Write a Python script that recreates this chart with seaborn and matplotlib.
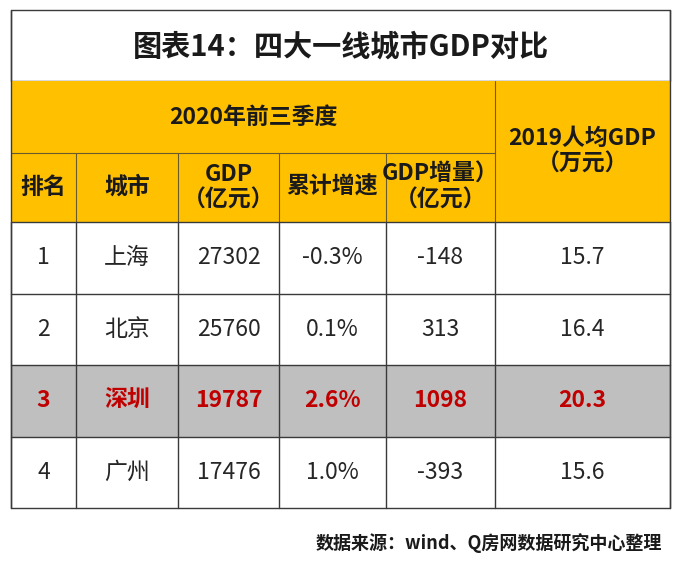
import matplotlib
matplotlib.use("Agg")
import matplotlib.pyplot as plt
from matplotlib.patches import Rectangle
import seaborn as sns

# table data
ranks = ["1", "2", "3", "4"]
cities = ["上海", "北京", "深圳", "广州"]
gdp = [27302, 25760, 19787, 17476]
growth = [-0.3, 0.1, 2.6, 1.0]
gdp_increase = [-148, 313, 1098, -393]
gdp_per_capita_2019 = [15.7, 16.4, 20.3, 15.6]
highlight_city = "深圳"

title = "图表14：四大一线城市GDP对比"
group_label = "2020年前三季度"
col_labels = ["排名", "城市", "GDP\n（亿元）", "累计增速", "GDP增量）\n（亿元）"]
last_col_label = "2019人均GDP\n（万元）"
source = "数据来源：wind、Q房网数据研究中心整理"

sns.set_theme(style="white")
plt.rcParams['font.family'] = ['Noto Sans CJK SC', 'DejaVu Sans']

W, H = 682, 565
fig = plt.figure(figsize=(W / 100, H / 100), dpi=100)
ax = fig.add_axes([0, 0, 1, 1])
ax.set_xlim(0, W)
ax.set_ylim(H, 0)
ax.axis("off")

# layout (pixels)
xs = [11, 76, 178, 279, 386, 495, 670]
y_top, y_title, y_h1, y_h2 = 10, 81, 153, 222
row_h = 71.5
yellow = "#FFC000"
grey = "#BFBFBF"
red = "#C00000"
line_c = "#3a3a3a"
head_fs = 16.5
data_fs = 16.5

# title cell
ax.add_patch(Rectangle((xs[0], y_top), xs[-1] - xs[0], y_title - y_top,
                       facecolor="white", edgecolor=line_c, lw=1))
ax.text((xs[0] + xs[-1]) / 2, (y_top + y_title) / 2 + 1, title, ha="center", va="center",
        fontsize=21, fontweight="bold", color="#1a1a1a")

# header block
ax.add_patch(Rectangle((xs[0], y_title), xs[-1] - xs[0], y_h2 - y_title,
                       facecolor=yellow, edgecolor="none"))
ax.plot([xs[0], xs[5]], [y_h1, y_h1], color="#6a5a30", lw=0.8)
for x in xs[1:5]:
    ax.plot([x, x], [y_h1, y_h2], color="#6a5a30", lw=0.8)
ax.plot([xs[5], xs[5]], [y_title, y_h2], color="#6a5a30", lw=0.8)
ax.text((xs[0] + xs[5]) / 2, (y_title + y_h1) / 2, group_label, ha="center", va="center",
        fontsize=head_fs, fontweight="bold", color="#1a1a1a")
ax.text((xs[5] + xs[6]) / 2, (y_title + y_h2) / 2, last_col_label, ha="center", va="center",
        fontsize=head_fs, fontweight="bold", color="#1a1a1a", linespacing=1.15)
for i, lab in enumerate(col_labels):
    ax.text((xs[i] + xs[i + 1]) / 2, (y_h1 + y_h2) / 2, lab, ha="center", va="center",
            fontsize=head_fs, fontweight="bold", color="#1a1a1a", linespacing=1.15)

# data rows
for r in range(len(cities)):
    y0 = y_h2 + r * row_h
    hl = cities[r] == highlight_city
    ax.add_patch(Rectangle((xs[0], y0), xs[-1] - xs[0], row_h,
                           facecolor=grey if hl else "white", edgecolor="none"))
    vals = [ranks[r], cities[r], f"{gdp[r]}", f"{growth[r]:.1f}%",
            f"{gdp_increase[r]}", f"{gdp_per_capita_2019[r]:.1f}"]
    for c, v in enumerate(vals):
        ax.text((xs[c] + xs[c + 1]) / 2, y0 + row_h / 2, v, ha="center", va="center",
                fontsize=data_fs, color=red if hl else "#262626",
                fontweight="bold" if hl else "normal")

y_bottom = y_h2 + len(cities) * row_h
for k in range(len(cities) + 1):
    yy = y_h2 + k * row_h
    ax.plot([xs[0], xs[-1]], [yy, yy], color=line_c, lw=1)
for x in xs:
    ax.plot([x, x], [y_h2, y_bottom], color=line_c, lw=1)
ax.plot([xs[0], xs[0]], [y_top, y_bottom], color=line_c, lw=1)
ax.plot([xs[-1], xs[-1]], [y_top, y_bottom], color=line_c, lw=1)

ax.text(662, 543, source, ha="right", va="center", fontsize=13, fontweight="bold", color="#1a1a1a")

fig.savefig("out.png", dpi=100)
